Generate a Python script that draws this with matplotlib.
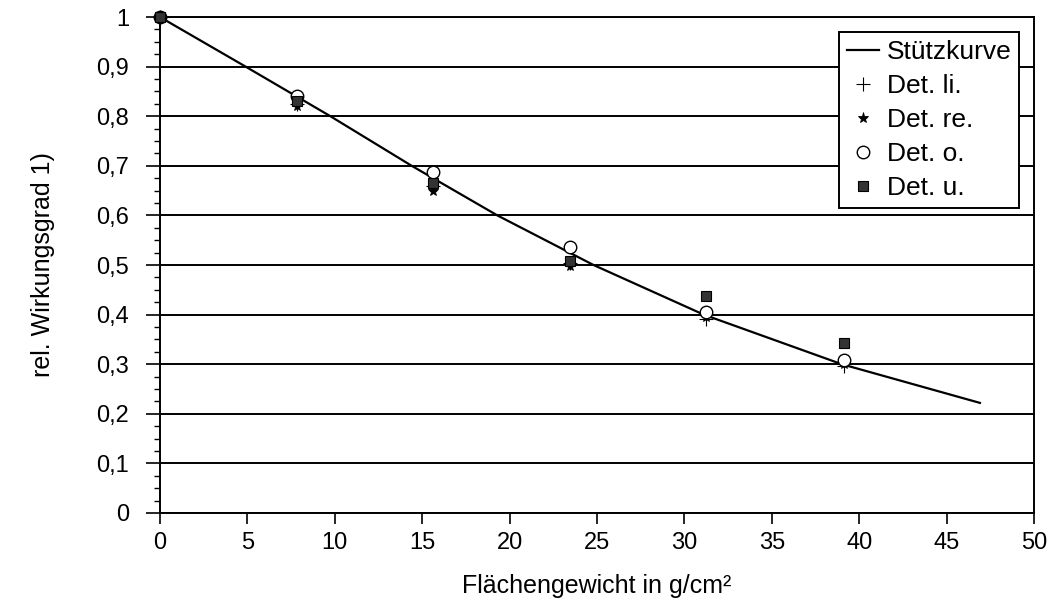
import numpy as np
import matplotlib.pyplot as plt
from matplotlib.ticker import MultipleLocator, FuncFormatter

plt.rcParams['font.family'] = ['Liberation Sans', 'DejaVu Sans']

curve_x = [0, 4.9, 9.75, 14.4, 19.3, 24.8, 31.1, 39.0, 46.9]
curve_y = [1.0, 0.9, 0.8, 0.7, 0.6, 0.5, 0.4, 0.3, 0.222]

# measured points
meas_x = [0, 7.85, 15.6, 23.45, 31.25, 39.1]
det_li = [1.0, 0.825, 0.660, 0.505, 0.392, 0.297]
det_re = [1.0, 0.820, 0.650, 0.497, 0.396, 0.300]
det_o = [1.0, 0.840, 0.687, 0.536, 0.406, 0.308]
det_u = [1.0, 0.831, 0.665, 0.508, 0.437, 0.342]

fig = plt.figure(figsize=(10.52, 6.14), dpi=100)
ax = fig.add_axes([0.152, 0.1645, 0.831, 0.8078])

ax.set_xlim(0, 50)
ax.set_ylim(0, 1)

# horizontal grid
ax.yaxis.set_major_locator(MultipleLocator(0.1))
ax.yaxis.set_minor_locator(MultipleLocator(0.025))
ax.xaxis.set_major_locator(MultipleLocator(5))
ax.grid(axis='y', which='major', color='black', linewidth=1.4)
ax.set_axisbelow(True)

ax.plot(curve_x, curve_y, color='black', linewidth=1.6, label='Stützkurve', zorder=3)
ax.plot(meas_x, det_li, linestyle='none', marker='+', markersize=10, markeredgewidth=0.8,
        color='black', label='Det. li.', zorder=4, clip_on=False)
ax.plot(meas_x, det_re, linestyle='none', marker='*', markersize=8, markeredgewidth=0.6,
        color='black', label='Det. re.', zorder=4, clip_on=False)
ax.plot(meas_x, det_o, linestyle='none', marker='o', markersize=9, markeredgewidth=1.0,
        markerfacecolor='white', markeredgecolor='black', label='Det. o.', zorder=5, clip_on=False)
ax.plot(meas_x, det_u, linestyle='none', marker='s', markersize=7, markeredgewidth=0.8,
        markerfacecolor='#333333', markeredgecolor='black', label='Det. u.', zorder=6, clip_on=False)

ax.yaxis.set_major_formatter(FuncFormatter(lambda v, p: ('%g' % round(v, 1)).replace('.', ',')))

for s in ax.spines.values():
    s.set_color('black')
    s.set_linewidth(1.4)

ax.tick_params(axis='both', which='major', direction='out', width=1.2,
               labelsize=17, colors='black')
ax.tick_params(axis='y', which='major', length=10, pad=12)
ax.tick_params(axis='y', which='minor', direction='out', length=4.5, width=1.0)
ax.tick_params(axis='x', which='major', length=8, pad=6)

ax.set_xlabel('Flächengewicht in g/cm²', fontsize=18, labelpad=14)
ax.set_ylabel('rel. Wirkungsgrad 1)', fontsize=18, labelpad=30)

leg = ax.legend(loc='upper right', bbox_to_anchor=(0.983, 0.970), fontsize=19,
                frameon=True, fancybox=False, framealpha=1, edgecolor='black',
                handlelength=1.2, handletextpad=0.3, borderpad=0.3, labelspacing=0.38,
                borderaxespad=0)
leg.get_frame().set_linewidth(1.4)

fig.savefig('out.png', dpi=100)
